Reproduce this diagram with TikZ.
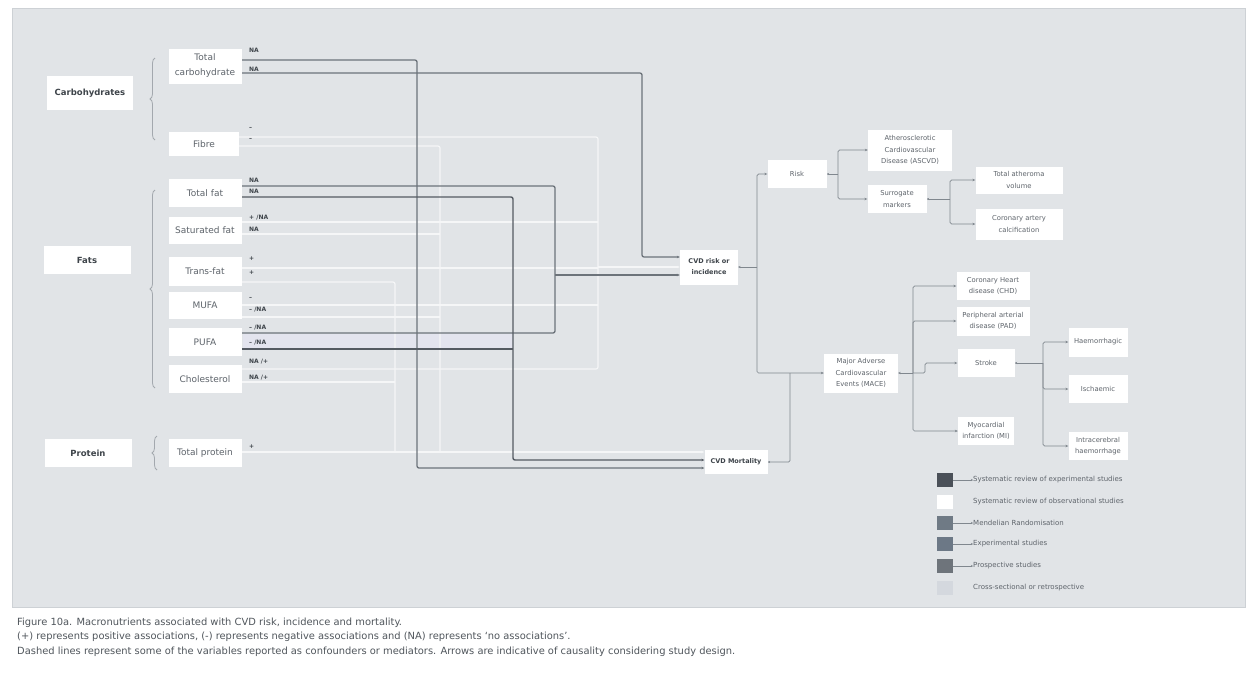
\documentclass[tikz,border=0pt]{standalone}
\usepackage{fontspec}
\setmainfont{DejaVu Sans}
\usetikzlibrary{arrows.meta,decorations.pathreplacing}
\pgfdeclarelayer{background}
\pgfsetlayers{background,main}
\definecolor{panel}{HTML}{E1E4E7}
\definecolor{panelline}{HTML}{CDD1D5}
\definecolor{boxtext}{HTML}{5E646B}
\definecolor{headtext}{HTML}{3E444A}
\definecolor{darkline}{HTML}{545A62}
\definecolor{midline}{HTML}{6C737A}
\definecolor{whiteline}{HTML}{F5F6F7}
\definecolor{conncol}{HTML}{80878E}
\definecolor{bracecol}{HTML}{A3A8AE}
\definecolor{lav}{HTML}{E3E4EE}
\definecolor{lgA}{HTML}{4A5058}
\definecolor{lgC}{HTML}{6F7A85}
\definecolor{lgD}{HTML}{6C7886}
\definecolor{lgE}{HTML}{6E747B}
\definecolor{lgF}{HTML}{D4D8DE}
\definecolor{captext}{HTML}{50565C}
\begin{document}
\begin{tikzpicture}[x=1pt,y=-1pt,
  box/.style={fill=white, inner sep=0pt, align=center, text=boxtext, font=\fontsize{9}{15}\selectfont},
  head/.style={fill=white, inner sep=0pt, align=center, text=headtext, font=\bfseries\fontsize{8.5}{10}\selectfont},
  rbox/.style={fill=white, inner sep=0pt, align=center, text=boxtext, font=\fontsize{6.8}{11.5}\selectfont},
  rhead/.style={fill=white, inner sep=0pt, align=center, text=headtext, font=\bfseries\fontsize{6.5}{11}\selectfont},
  lab/.style={anchor=west, inner sep=0pt, text=headtext, font=\bfseries\fontsize{6}{7}\selectfont},
  dk/.style={draw=darkline, line width=1.4pt, rounded corners=2pt},
  md/.style={draw=midline, line width=1.3pt, rounded corners=2pt},
  wt/.style={draw=whiteline, line width=1.2pt, rounded corners=2pt},
  conn/.style={draw=conncol, line width=0.7pt, rounded corners=1.5pt},
  tip/.style={-{Stealth[length=3pt,width=2.6pt]}},
  srctip/.style={{Stealth[length=2.5pt,width=2.4pt]}-},
  brc/.style={draw=bracecol, line width=0.8pt, decorate, decoration={brace, amplitude=5pt}},
  legbox/.style={minimum width=16pt, minimum height=14pt, inner sep=0pt},
  legtext/.style={anchor=west, inner sep=0pt, text=boxtext, font=\fontsize{7}{8}\selectfont},
  captxt/.style={anchor=west, inner sep=0pt, text=captext, font=\fontsize{9.9}{11}\selectfont}
]
\useasboundingbox (0,0) rectangle (1247,678);
% ---------- left nodes
\node[head, minimum width=86pt, minimum height=34pt] (carb) at (90,93) {Carbohydrates};
\node[head, minimum width=87pt, minimum height=28pt] (fats) at (87,260) {Fats};
\node[head, minimum width=87pt, minimum height=28pt] (prot) at (88,453) {Protein};
\node[box, minimum width=73pt, minimum height=35pt] (tcarb) at (205,66) {Total\\carbohydrate};
\node[box, minimum width=70pt, minimum height=24pt] (fibre) at (204,144) {Fibre};
\node[box, minimum width=73pt, minimum height=28pt] (tfat) at (205,193) {Total fat};
\node[box, minimum width=73pt, minimum height=27pt] (sfat) at (205,230) {Saturated fat};
\node[box, minimum width=73pt, minimum height=29pt] (trans) at (205,271) {Trans-fat};
\node[box, minimum width=73pt, minimum height=27pt] (mufa) at (205,305) {MUFA};
\node[box, minimum width=73pt, minimum height=28pt] (pufa) at (205,342) {PUFA};
\node[box, minimum width=73pt, minimum height=28pt] (chol) at (205,379) {Cholesterol};
\node[box, minimum width=73pt, minimum height=28pt] (tprot) at (205,453) {Total protein};
% ---------- right nodes
\node[rhead, minimum width=58pt, minimum height=35pt] (cvdr) at (709,267) {CVD risk or\\incidence};
\node[rhead, minimum width=63pt, minimum height=24pt] (cvdm) at (736,462) {CVD Mortality};
\node[rbox, minimum width=59pt, minimum height=28pt] (risk) at (797,174) {Risk};
\node[rbox, minimum width=84pt, minimum height=41pt] (ascvd) at (910,150) {Atherosclerotic\\Cardiovascular\\Disease (ASCVD)};
\node[rbox, minimum width=59pt, minimum height=28pt] (surr) at (897,199) {Surrogate\\markers};
\node[rbox, minimum width=87pt, minimum height=27pt] (tav) at (1019,180) {Total atheroma\\volume};
\node[rbox, minimum width=87pt, minimum height=31pt] (cac) at (1019,224) {Coronary artery\\calcification};
\node[rbox, minimum width=74pt, minimum height=39pt] (mace) at (861,373) {Major Adverse\\Cardiovascular\\Events (MACE)};
\node[rbox, minimum width=73pt, minimum height=28pt] (chd) at (993,286) {Coronary Heart\\disease (CHD)};
\node[rbox, minimum width=73pt, minimum height=29pt] (pad) at (993,321) {Peripheral arterial\\disease (PAD)};
\node[rbox, minimum width=57pt, minimum height=28pt] (stroke) at (986,363) {Stroke};
\node[rbox, minimum width=56pt, minimum height=28pt] (mi) at (986,431) {Myocardial\\infarction (MI)};
\node[rbox, minimum width=59pt, minimum height=29pt] (haem) at (1098,342) {Haemorrhagic};
\node[rbox, minimum width=59pt, minimum height=28pt] (isch) at (1098,389) {Ischaemic};
\node[rbox, minimum width=59pt, minimum height=28pt] (ich) at (1098,446) {Intracerebral\\haemorrhage};
% ---------- association labels
\node[lab] (l1) at (249,50) {NA};
\node[lab] (l2) at (249,69) {NA};
\node[lab] (l3) at (249,128) {–};
\node[lab] (l4) at (249,139) {–};
\node[lab] (l5) at (249,180) {NA};
\node[lab] (l6) at (249,191) {NA};
\node[lab] (l7) at (249,218) {+ /NA};
\node[lab] (l8) at (249,229) {NA};
\node[lab] (l9) at (249,259) {+};
\node[lab] (l10) at (249,273) {+};
\node[lab] (l11) at (249,298) {–};
\node[lab] (l12) at (249,310) {– /NA};
\node[lab] (l13) at (249,328) {– /NA};
\node[lab] (l14) at (249,343) {– /NA};
\node[lab] (l15) at (249,362) {NA /+};
\node[lab] (l16) at (249,378) {NA /+};
\node[lab] (l17) at (249,447) {+};
% ---------- legend
\node[legbox, fill=lgA] (g1) at (945,480) {};
\node[legbox, fill=white] (g2) at (945,502) {};
\node[legbox, fill=lgC] (g3) at (945,523) {};
\node[legbox, fill=lgD] (g4) at (945,544) {};
\node[legbox, fill=lgE] (g5) at (945,566) {};
\node[legbox, fill=lgF] (g6) at (945,588) {};
\node[legtext] (t1) at (973,480) {Systematic review of experimental studies};
\node[legtext] (t2) at (973,502) {Systematic review of observational studies};
\node[legtext] (t3) at (973,523) {Mendelian Randomisation};
\node[legtext] (t4) at (973,544) {Experimental studies};
\node[legtext] (t5) at (973,566) {Prospective studies};
\node[legtext] (t6) at (973,588) {Cross-sectional or retrospective};
% ---------- caption
\node[captxt] (c1) at (17,623) {Figure 10a. Macronutrients associated with CVD risk, incidence and mortality.};
\node[captxt] (c2) at (17,637) {(+) represents positive associations, (-) represents negative associations and (NA) represents ‘no associations’.};
\node[captxt] (c3) at (17,652) {Dashed lines represent some of the variables reported as confounders or mediators. Arrows are indicative of causality considering study design.};
% ---------- background layer
\begin{pgfonlayer}{background}
\fill[white] (0,0) rectangle (1247,678);
\draw[panelline, fill=panel, line width=0.8pt] (12,8) rectangle (1245,607);
\fill[lav] (243,334) rectangle (513,349);
% braces
\draw[brc] (155,140) -- (155,58);
\draw[brc] (155,388) -- (155,190);
\draw[brc] (157,470) -- (157,436);
% white lines: observational -> CVD risk
\draw[wt] (fibre.east |- 0,137) -| (598,369) -- (chol.east |- 0,369);
\draw[wt] (sfat.east |- 0,222) -- (598,222);
\draw[wt] (trans.east |- 0,268) -- (598,268);
\draw[wt] (mufa.east |- 0,305) -- (598,305);
\draw[wt, tip] (598,267) -- (cvdr.west |- 0,267);
% white lines: observational -> CVD mortality
\draw[wt] (fibre.east |- 0,146) -| (440,452);
\draw[wt] (sfat.east |- 0,234) -- (440,234);
\draw[wt] (mufa.east |- 0,317) -- (440,317);
\draw[wt] (trans.east |- 0,282) -| (395,452);
\draw[wt] (chol.east |- 0,382) -- (395,382);
\draw[wt, tip] (tprot.east |- 0,452) -- (cvdm.west |- 0,452);
% grey / dark lines
\draw[md, tip] (tcarb.east |- 0,60) -| (417,468) -- (cvdm.west |- 0,468);
\draw[md, tip] (tcarb.east |- 0,73) -| (642,257) -- (cvdr.west |- 0,257);
\draw[md] (tfat.east |- 0,186) -| (555,333) -- (pufa.east |- 0,333);
\draw[md, tip] (555,275) -- (cvdr.west |- 0,275);
\draw[dk, tip] (tfat.east |- 0,197) -| (513,460) -- (cvdm.west |- 0,460);
\draw[dk] (pufa.east |- 0,349) -- (513,349);
% right-hand connectors
\draw[conn, srctip] (cvdr.east) -- (757,267);
\draw[conn, tip] (757,267) |- (risk.west);
\draw[conn, tip] (757,267) |- (mace.west);
\draw[conn, srctip] (cvdm.east) -| (790,373);
\draw[conn, srctip] (risk.east) -- (838,174);
\draw[conn, tip] (838,174) |- (ascvd.west);
\draw[conn, tip] (838,174) |- (surr.west);
\draw[conn, srctip] (surr.east) -- (950,199);
\draw[conn, tip] (950,199) |- (tav.west);
\draw[conn, tip] (950,199) |- (cac.west);
\draw[conn, srctip] (mace.east) -- (913,373);
\draw[conn, tip] (913,373) |- (chd.west);
\draw[conn, tip] (913,373) |- (pad.west);
\draw[conn, tip] (913,373) |- (mi.west);
\draw[conn, tip] (913,373) -- (925,373) |- (stroke.west);
\draw[conn, srctip] (stroke.east) -- (1043,363);
\draw[conn, tip] (1043,363) |- (haem.west);
\draw[conn, tip] (1043,363) |- (isch.west);
\draw[conn, tip] (1043,363) |- (ich.west);
% legend ticks
\foreach \i in {1,3,4,5}{\draw[conn, line width=0.5pt, -{Stealth[length=2pt,width=2pt]}] (g\i.east) -- (t\i.west);}
\end{pgfonlayer}
\end{tikzpicture}
\end{document}
